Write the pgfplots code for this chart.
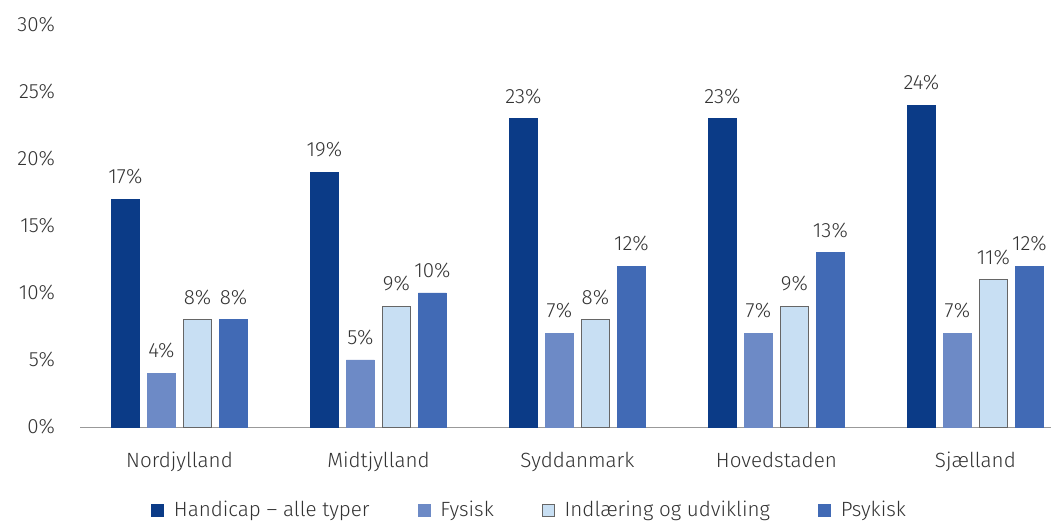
\documentclass[border=0pt]{standalone}
\usepackage{pgfplots}
\pgfplotsset{compat=1.18}
\usepackage{fontspec}
\setmainfont{Fira Sans Light}
\definecolor{cAll}{HTML}{0B3B87}
\definecolor{cFys}{HTML}{6D8AC6}
\definecolor{cInd}{HTML}{C8DFF3}
\definecolor{cPsy}{HTML}{416AB5}
\definecolor{txt}{HTML}{333333}
\begin{document}
\begin{tikzpicture}
\path[use as bounding box] (-40pt,-48.5pt) rectangle (485.5pt,213.5pt);
\begin{axis}[
  scale only axis, width=485.5pt, height=201pt,
  at={(0,0)}, anchor=south west,
  ybar=4pt, bar width=14pt,
  ymin=0, ymax=30, ytick={0,5,...,30},
  xmin=-0.5, xmax=4.38,
  xtick={0,1,2,3,4},
  xticklabels={Nordjylland,Midtjylland,Syddanmark,Hovedstaden,Sjælland},
  axis x line*=bottom, axis y line*=left,
  x axis line style={draw=gray!80, -},
  y axis line style={draw=none},
  major tick length=0pt,
  yticklabel={\pgfmathprintnumber{\tick}\%},
  yticklabel style={font=\fontsize{10.3}{12}\selectfont, text=txt, anchor=east, xshift=-9pt},
  xticklabel style={font=\fontsize{10.3}{12}\selectfont, text=txt, yshift=-9pt},
  clip=false,
  nodes near coords={\pgfmathprintnumber{\pgfplotspointmeta}\%},
  every node near coord/.append style={font=\fontsize{10.3}{12}\selectfont, text=txt, yshift=4pt},
  legend style={at={(0.464,-0.208)}, anchor=center, draw=none, fill=none,
    legend columns=4, font=\fontsize{10.3}{12}\selectfont, text=txt,
    /tikz/every odd column/.append style={column sep=3pt},
    /tikz/every even column/.append style={column sep=22pt}},
  legend image code/.code={\draw[#1] (0pt,-3pt) rectangle (6pt,3pt);},
  /pgf/number format/assume math mode=true,
]
\addplot[fill=cAll, draw=cAll] coordinates {(0,17) (1,19) (2,23) (3,23) (4,24)};
\addplot[fill=cFys, draw=cFys] coordinates {(0,4) (1,5) (2,7) (3,7) (4,7)};
\addplot[fill=cInd, draw=gray!80!black] coordinates {(0,8) (1,9) (2,8) (3,9) (4,11)};
\addplot[fill=cPsy, draw=cPsy] coordinates {(0,8) (1,10) (2,12) (3,13) (4,12)};
\legend{Handicap – alle typer, Fysisk, Indlæring og udvikling, Psykisk}
\end{axis}
\end{tikzpicture}
\end{document}
